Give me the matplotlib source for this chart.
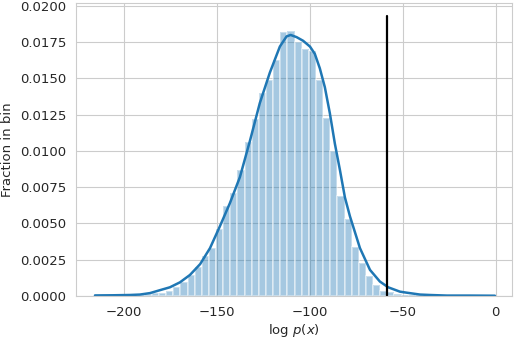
import numpy as np
import matplotlib
matplotlib.use("Agg")
import matplotlib.pyplot as plt
import seaborn as sns

# histogram: 56 equal bins, left edge and width
bin_start = -215.7
bin_width = 3.84
bin_heights = [
    0.00005, 0.00005, 0.00008, 0.0001, 0.0001, 0.0001, 0.00012, 0.00015,
    0.0002, 0.0002, 0.00037, 0.00064, 0.0010, 0.00145, 0.0020, 0.00276,
    0.0033, 0.0046, 0.0062, 0.0071, 0.0087, 0.0106, 0.0122, 0.0140,
    0.0149, 0.0163, 0.0182, 0.0183, 0.0175, 0.0170, 0.0169, 0.0149,
    0.0123, 0.0100, 0.0069, 0.0053, 0.0034, 0.0023, 0.00138, 0.00076,
    0.00037, 0.0003, 0.00017, 0.0001, 0.00008, 0.00006, 0.00005, 0.00004,
    0.00003, 0.00003, 0.00008, 0.00008, 0.00008, 0.00008, 0.00004, 0.00004,
]

# density curve, points
kde_x = [-215.6, -206.0, -196.8, -191.4, -186.0, -180.7, -175.3, -169.9,
         -164.5, -159.0, -153.7, -148.4, -143.0, -137.6, -132.2, -126.9,
         -121.5, -116.1, -112.5, -110.3, -107.1, -103.6, -99.9, -97.3,
         -94.6, -91.9, -89.2, -86.5, -83.8, -81.1, -78.4, -73.0, -67.6,
         -62.3, -57.8, -51.5, -47.9, -40.7, -35.4, -26.2, -13.8, -0.4]
kde_y = [0.00004, 0.00005, 0.00007, 0.0001, 0.0002, 0.0004, 0.0006, 0.00094,
         0.00145, 0.0022, 0.0033, 0.0048, 0.0064, 0.0082, 0.0107, 0.0133,
         0.0154, 0.0172, 0.0179, 0.0180, 0.01785, 0.0176, 0.0172, 0.0167,
         0.0157, 0.0144, 0.0126, 0.0105, 0.0087, 0.0068, 0.0055, 0.0033, 0.0018,
         0.0010, 0.0006, 0.0003, 0.00023, 0.0001, 0.00007, 0.00003, 0.00003, 0.00002]

marker_x = -58.2
marker_top = 0.0193

sns.set_style("whitegrid")
plt.rcParams['font.family'] = ['DejaVu Sans']
plt.rcParams['font.size'] = 9.5

fig = plt.figure(figsize=(5.16, 3.40), dpi=100)
ax = fig.add_axes([0.1473, 0.1294, 0.8449, 0.8616])

lefts = bin_start + bin_width * np.arange(len(bin_heights))
ax.bar(lefts, bin_heights, width=bin_width, align='edge',
       color='C0', alpha=0.4, edgecolor='white', linewidth=1.4)
ax.plot(kde_x, kde_y, color='C0', linewidth=1.8, solid_joinstyle='round')
ax.plot([marker_x, marker_x], [0, marker_top], color='black', linewidth=1.6)

ax.set_xlim(-225.8, 8.8)
ax.set_ylim(0, 0.0202)
ax.set_yticks(np.arange(0, 0.02001, 0.0025))
ax.yaxis.set_major_formatter(matplotlib.ticker.FormatStrFormatter('%.4f'))
ax.set_xlabel(r'$\log\,p(x)$', fontsize=9.5, labelpad=2)
ax.set_ylabel('Fraction in bin', fontsize=9.5, labelpad=4)
ax.tick_params(labelsize=9.5)

fig.savefig("out.png", dpi=100)
